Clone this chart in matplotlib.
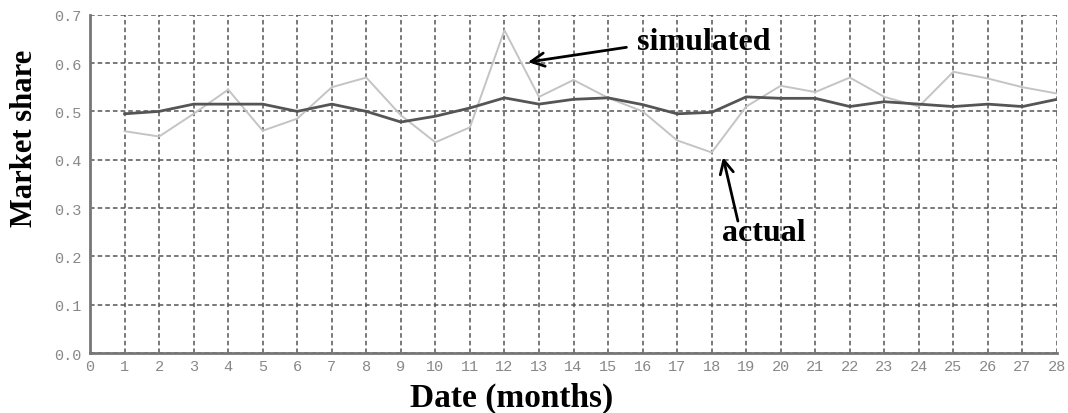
"""Market share: simulated vs actual by month."""

import matplotlib

matplotlib.use("Agg")

import matplotlib.pyplot as plt  # noqa: E402

months = list(range(1, 29))

dark_series = [0.495, 0.50, 0.515, 0.515, 0.515, 0.50, 0.515, 0.50, 0.478, 0.49,
               0.507, 0.528, 0.515, 0.525, 0.528, 0.514, 0.495, 0.498, 0.53, 0.527,
               0.527, 0.51, 0.52, 0.515, 0.51, 0.515, 0.51, 0.525]

light_series = [0.459, 0.448, 0.495, 0.545, 0.46, 0.485, 0.55, 0.57, 0.492, 0.436,
                0.467, 0.668, 0.53, 0.565, 0.528, 0.50, 0.44, 0.415, 0.51, 0.553,
                0.54, 0.57, 0.53, 0.51, 0.582, 0.568, 0.55, 0.537]

x_ticks = list(range(0, 29))
y_ticks = [0.0, 0.1, 0.2, 0.3, 0.4, 0.5, 0.6, 0.7]

SERIF = ["Liberation Serif", "DejaVu Serif"]
MONO = ["Liberation Mono", "DejaVu Sans Mono"]


def main() -> None:
    fig = plt.figure(figsize=(10.68, 4.14), dpi=100)
    ax = fig.add_axes([0.0843, 0.1449, 0.9054, 0.8171])

    ax.plot(months, light_series, color="#c4c4c4", linewidth=1.4, zorder=3)
    ax.plot(months, dark_series, color="#555555", linewidth=2.0, zorder=4)

    ax.set_xlim(0, 28)
    ax.set_ylim(0, 0.7)
    ax.set_xticks(x_ticks)
    ax.set_yticks(y_ticks)
    ax.set_yticklabels([f"{v:.1f}" for v in y_ticks])
    ax.grid(True, color="#555555", linestyle=(0, (3, 2)), linewidth=1.1)
    ax.set_axisbelow(True)

    for side in ("top", "right"):
        ax.spines[side].set_visible(False)
    for side in ("left", "bottom"):
        ax.spines[side].set_color("#777777")
        ax.spines[side].set_linewidth(2.0)

    ax.tick_params(axis="y", length=0, pad=6)
    ax.tick_params(axis="x", length=0, pad=4)
    ax.tick_params(labelsize=11, labelcolor="#888888")
    for lab in ax.get_xticklabels() + ax.get_yticklabels():
        lab.set_family(MONO)

    ax.set_xlabel("Date (months)", family=SERIF, fontsize=24, fontweight="bold",
                  labelpad=4)
    ax.xaxis.set_label_coords(0.436, -0.086)
    ax.set_ylabel("Market share", family=SERIF, fontsize=22, fontweight="bold")
    ax.yaxis.set_label_coords(-0.053, 0.638)

    ax.annotate("simulated", xy=(12.68, 0.602), xytext=(15.85, 0.645),
                family=SERIF, fontsize=23, fontweight="bold", va="center",
                arrowprops=dict(arrowstyle="->", color="black", lw=2,
                                mutation_scale=24, shrinkA=6, shrinkB=0,
                                relpos=(0.0, 0.35)))
    ax.annotate("", xy=(18.33, 0.405), xytext=(18.76, 0.273),
                arrowprops=dict(arrowstyle="->", color="black", lw=2,
                                mutation_scale=24, shrinkA=0, shrinkB=0))
    ax.text(18.3, 0.25, "actual", family=SERIF, fontsize=23, fontweight="bold",
            va="center")

    fig.savefig("out.png", dpi=100)
    plt.close(fig)


if __name__ == "__main__":
    main()
